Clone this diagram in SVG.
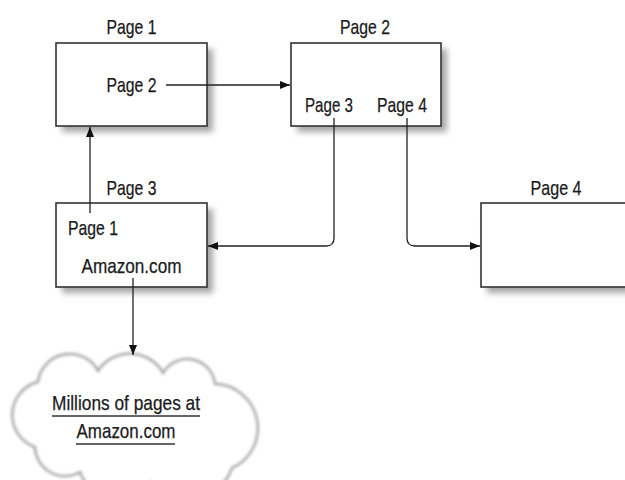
<svg xmlns="http://www.w3.org/2000/svg" width="625" height="480" viewBox="0 0 625 480">
<style>
text{font-family:"Liberation Sans",Arial,sans-serif;font-size:21px;fill:#1a1a1a;text-anchor:middle;stroke:#1a1a1a;stroke-width:0.25}
.box{fill:#fff;stroke:#333;stroke-width:1.6}
.shadow{fill:#a5a5a5;filter:url(#blur)}
.conn{fill:none;stroke:#222;stroke-width:1.3}
.ul{stroke:#333;stroke-width:1.6}
</style>
<defs>
<filter id="blur" x="-20%" y="-20%" width="140%" height="140%"><feGaussianBlur stdDeviation="3.2"/></filter>
<filter id="cblur" x="-10%" y="-10%" width="120%" height="120%"><feGaussianBlur stdDeviation="1.8"/></filter>
<marker id="arr" viewBox="0 0 10 8" refX="10" refY="4" markerWidth="10" markerHeight="8" markerUnits="userSpaceOnUse" orient="auto">
<path d="M0,0 L10,4 L0,8 Z" fill="#111"/>
</marker>
</defs>
<rect width="625" height="480" fill="#fff"/>

<g id="page1">
<rect class="shadow" x="62" y="49" width="151" height="83"/>
<rect class="box" x="56" y="43" width="151" height="83"/>
<text x="131.5" y="34" textLength="50" lengthAdjust="spacingAndGlyphs">Page 1</text>
<text x="131.5" y="92" textLength="50" lengthAdjust="spacingAndGlyphs">Page 2</text>
</g>

<g id="page2">
<rect class="shadow" x="297" y="49" width="150" height="83"/>
<rect class="box" x="291" y="43" width="150" height="83"/>
<text x="365" y="34" textLength="50" lengthAdjust="spacingAndGlyphs">Page 2</text>
<text x="329" y="112" textLength="48" lengthAdjust="spacingAndGlyphs">Page 3</text>
<text x="402" y="112" textLength="50" lengthAdjust="spacingAndGlyphs">Page 4</text>
</g>

<g id="page3">
<rect class="shadow" x="62" y="209" width="151" height="84"/>
<rect class="box" x="56" y="203" width="151" height="84"/>
<text x="131.5" y="195" textLength="50" lengthAdjust="spacingAndGlyphs">Page 3</text>
<text x="93" y="235" textLength="50" lengthAdjust="spacingAndGlyphs">Page 1</text>
<text x="131.5" y="273" textLength="100" lengthAdjust="spacingAndGlyphs">Amazon.com</text>
</g>

<g id="page4">
<rect class="shadow" x="487" y="209" width="160" height="84"/>
<rect class="box" x="481" y="203" width="160" height="84"/>
<text x="556" y="195" textLength="51" lengthAdjust="spacingAndGlyphs">Page 4</text>
</g>

<g id="cloud">
<path d="M35,447 A34,34 0 0 1 38,382 A32,32 0 0 1 98,371 A38,38 0 0 1 163,373 A28,28 0 0 1 215,384 A44,44 0 0 1 232,468 A48,48 0 0 1 150,482 A40,40 0 0 1 80,472 A30,30 0 0 1 35,447 Z" fill="#fff" stroke="#a0a0a0" stroke-width="2.5" filter="url(#cblur)"/>
<text x="126" y="410" textLength="148" lengthAdjust="spacingAndGlyphs">Millions of pages at</text>
<line class="ul" x1="52" y1="416" x2="200" y2="416"/>
<text x="126" y="438" textLength="99" lengthAdjust="spacingAndGlyphs">Amazon.com</text>
<line class="ul" x1="76" y1="444" x2="175" y2="444"/>
</g>

<g id="connectors">
<line class="conn" x1="166" y1="85" x2="290" y2="85" marker-end="url(#arr)"/>
<line class="conn" x1="90" y1="213" x2="90" y2="127" marker-end="url(#arr)"/>
<path class="conn" d="M334,118 V238 Q334,246 326,246 H208" marker-end="url(#arr)"/>
<path class="conn" d="M407,118 V238 Q407,246 415,246 H480" marker-end="url(#arr)"/>
<line class="conn" x1="133" y1="278" x2="133" y2="355" marker-end="url(#arr)"/>
</g>
</svg>
